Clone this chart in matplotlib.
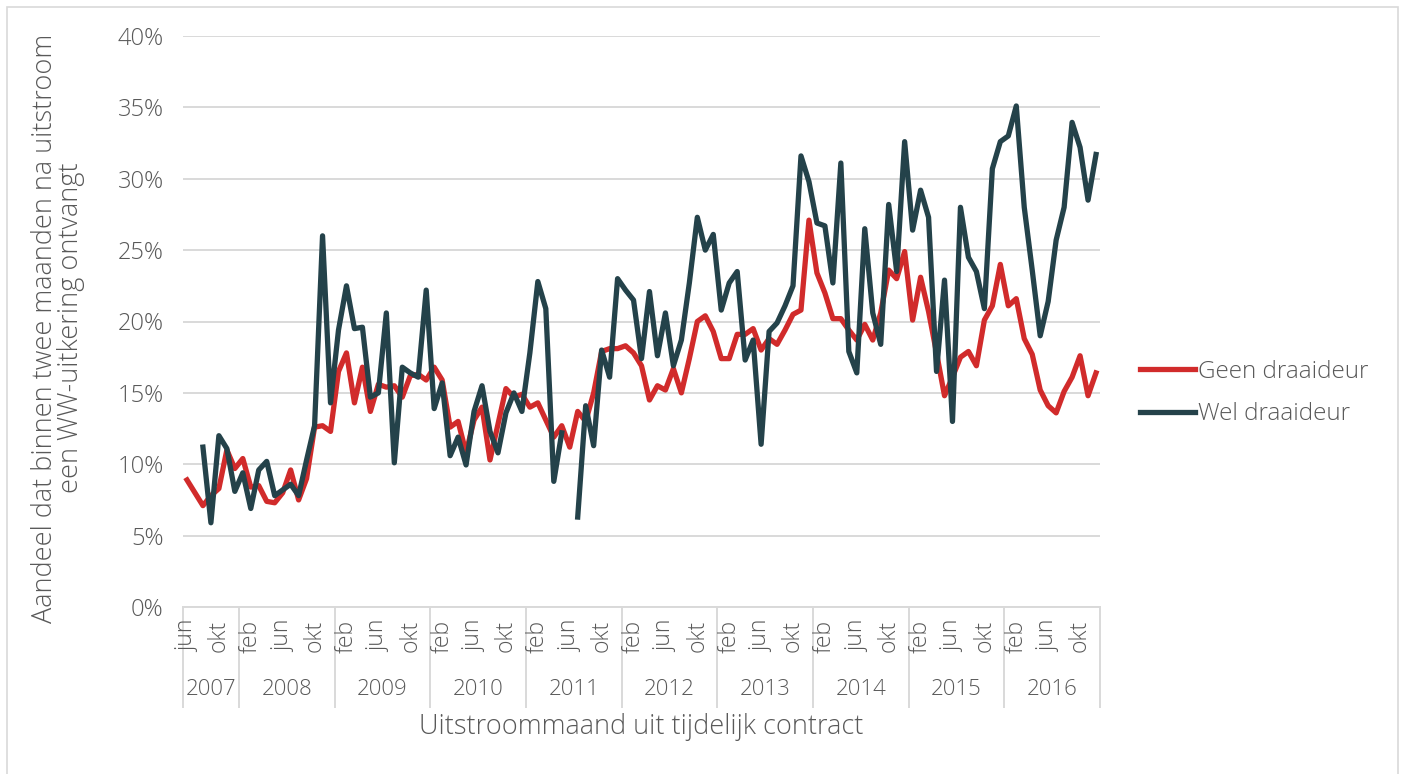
import numpy as np
import matplotlib.pyplot as plt
from matplotlib.patches import Rectangle

plt.rcParams['font.family'] = ['Open Sans', 'DejaVu Sans']
plt.rcParams['font.weight'] = 'light'

# maanden jun 2007 t/m dec 2016
maanden = ['jan', 'feb', 'mrt', 'apr', 'mei', 'jun', 'jul', 'aug', 'sep', 'okt', 'nov', 'dec']
jaren = [2007, 2008, 2009, 2010, 2011, 2012, 2013, 2014, 2015, 2016]
start_maand = 5  # jun 2007

geen = [8.9, 8.0, 7.1, 7.8, 8.3, 11.0, 9.7, 10.4, 8.4, 8.5, 7.4, 7.3, 8.0, 9.6, 7.5, 9.0,
        12.6, 12.7, 12.3, 16.5, 17.8, 14.3, 16.8, 13.7, 15.6, 15.4, 15.5, 14.7, 16.2, 16.3,
        15.9, 16.8, 15.9, 12.6, 13.0, 10.8, 13.1, 14.0, 10.3, 12.8, 15.3, 14.7, 14.9, 14.0,
        14.3, 13.1, 11.9, 12.7, 11.2, 13.7, 13.0, 15.0, 17.9, 18.1, 18.1, 18.3, 17.8, 16.9,
        14.5, 15.5, 15.2, 16.7, 15.0, 17.4, 20.0, 20.4, 19.3, 17.4, 17.4, 19.1, 19.1, 19.5,
        18.0, 18.8, 18.4, 19.4, 20.5, 20.8, 27.1, 23.4, 22.0, 20.2, 20.2, 19.4, 18.7, 19.8,
        18.7, 20.6, 23.6, 23.0, 24.9, 20.1, 23.1, 20.7, 17.8, 14.8, 16.1, 17.5, 17.9, 16.9,
        20.1, 21.1, 24.0, 21.1, 21.6, 18.8, 17.7, 15.2, 14.1, 13.6, 15.1, 16.1, 17.6, 14.8,
        16.4]

wel = [np.nan, np.nan, 11.2, 5.9, 12.0, 11.1, 8.1, 9.4, 6.9, 9.6, 10.2, 7.8, 8.2, 8.6, 7.8,
       10.3, 12.7, 26.0, 14.3, 19.4, 22.5, 19.5, 19.6, 14.7, 15.0, 20.6, 10.1, 16.8, 16.4,
       16.1, 22.2, 13.9, 15.7, 10.6, 11.9, 9.95, 13.7, 15.5, 12.3, 10.8, 13.6, 15.0, 13.7,
       17.8, 22.8, 20.9, 8.8, 12.2, np.nan, 6.3, 14.1, 11.3, 18.0, 16.1, 23.0, 22.2, 21.5,
       17.4, 22.1, 17.6, 20.6, 16.9, 18.7, 22.7, 27.3, 25.0, 26.1, 20.8, 22.7, 23.5, 17.3,
       18.7, 11.4, 19.3, 19.9, 21.1, 22.5, 31.6, 29.8, 26.9, 26.7, 22.7, 31.1, 17.9, 16.4,
       26.5, 20.6, 18.4, 28.2, 23.5, 32.6, 26.4, 29.2, 27.3, 16.5, 22.9, 13.0, 28.0, 24.5,
       23.5, 20.9, 30.7, 32.6, 33.0, 35.1, 28.0, 23.6, 19.0, 21.4, 25.7, 28.0, 33.95, 32.2,
       28.5, 31.7]

rood = '#D12B2B'
donker = '#24424A'
grijs = '#595959'
lijn = '#D9D9D9'

n = len(geen)
x = np.arange(n)

fig = plt.figure(figsize=(14.02, 7.74), dpi=100)
ax = fig.add_axes([183 / 1402, 1 - 607 / 774, 917 / 1402, 571 / 774])

ax.plot(x, geen, color=rood, lw=3.8, solid_joinstyle='round', label='Geen draaideur')
ax.plot(x, wel, color=donker, lw=3.8, solid_joinstyle='round', label='Wel draaideur')

ax.set_xlim(-0.5, n - 0.5)
ax.set_ylim(0, 40)
ax.set_yticks(range(0, 41, 5))
ax.set_yticklabels([f'{v}%' for v in range(0, 41, 5)])
ax.tick_params(axis='y', length=0, labelsize=17, colors=grijs, pad=14)
ax.set_xticks([])
ax.grid(axis='y', color=lijn, lw=1.4)
ax.set_axisbelow(True)
for s in ['top', 'right', 'left']:
    ax.spines[s].set_visible(False)
ax.spines['bottom'].set_color(lijn)
ax.spines['bottom'].set_linewidth(1.4)

# maand- en jaarlabels (twee niveaus zoals in Excel)
tr = ax.get_xaxis_transform()
for i in range(0, n, 4):
    ax.text(i, -0.022, maanden[(start_maand + i) % 12], transform=tr, rotation=90,
            ha='center', va='top', fontsize=16.5, color=grijs)

grenzen = [-0.5]
for j in jaren:
    eind = (j - jaren[0] + 1) * 12 - start_maand - 0.5
    grenzen.append(min(eind, n - 0.5))
for b in grenzen:
    ax.plot([b, b], [0, -0.176], transform=tr, clip_on=False, color=lijn, lw=1.4)
for k, j in enumerate(jaren):
    ax.text((grenzen[k] + grenzen[k + 1]) / 2, -0.145, str(j), transform=tr,
            ha='center', va='center', fontsize=16, color=grijs)

fig.text(641.5 / 1402, 1 - 727 / 774, 'Uitstroommaand uit tijdelijk contract',
         ha='center', va='center', fontsize=19.5, color=grijs)
fig.text(58 / 1402, 1 - 328 / 774,
         'Aandeel dat binnen twee maanden na uitstroom\neen WW-uitkering ontvangt',
         rotation=90, ha='center', va='center', fontsize=19.5, color=grijs, linespacing=0.95)

ax.legend(loc='center left', bbox_to_anchor=(1140 / 1402, 1 - 393 / 774),
          bbox_transform=fig.transFigure, frameon=False, fontsize=17.5, borderpad=0,
          borderaxespad=0, handlelength=2.26, handletextpad=0.12, labelspacing=0.75,
          labelcolor=grijs)

fig.patches.append(Rectangle((6.5 / 1402, -0.05), 1391 / 1402, 1.05 - 6.5 / 774,
                             transform=fig.transFigure, fill=False,
                             edgecolor=lijn, lw=1.2))

plt.savefig('out.png', dpi=100)
